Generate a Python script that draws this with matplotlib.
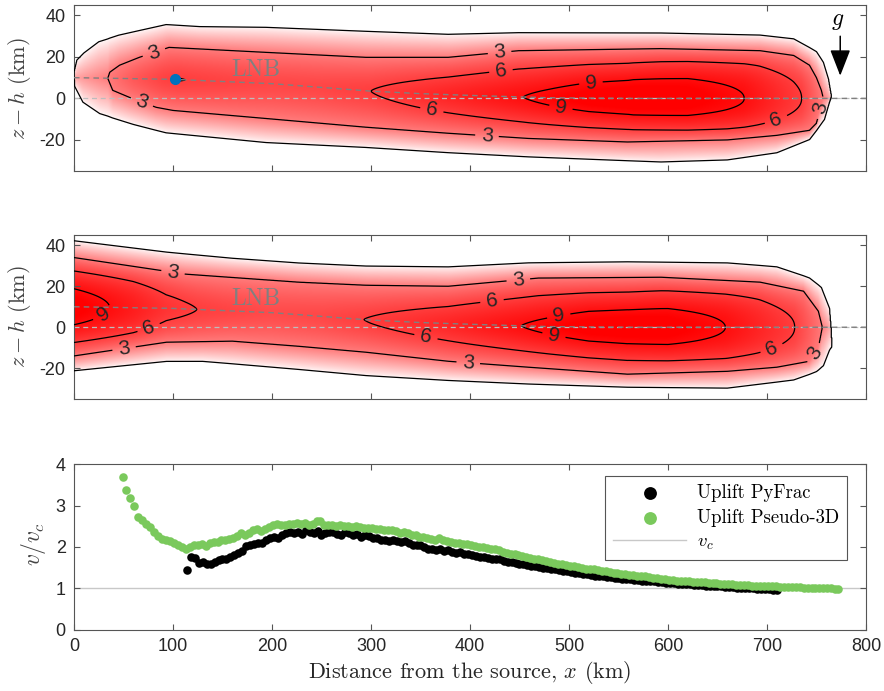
import numpy as np
import matplotlib
matplotlib.use("Agg")
import matplotlib.pyplot as plt
from matplotlib.colors import LinearSegmentedColormap, PowerNorm

plt.rcParams["font.family"] = ["Liberation Sans", "DejaVu Sans"]
plt.rcParams["mathtext.fontset"] = "cm"
plt.rcParams["axes.unicode_minus"] = False

# level of neutral buoyancy (centre of the plume)
lnb_x = [0, 100, 200, 250, 300, 350, 400, 480, 560, 800]
lnb_z = [10, 9.2, 7.1, 5.3, 3.5, 2.3, 1.45, 0.3, 0, 0]

# --- top panel (PyFrac footprint) ---
a_up_x = [0, 3, 10, 25, 45, 93, 127, 194, 295, 378, 449, 593, 693, 727, 750, 757, 762, 765]
a_up = [12.5, 19, 22.5, 28, 31, 36, 35, 34.7, 32.8, 31.3, 32, 31.8, 30.8, 29, 23, 18, 10, 1]
a_lo_x = [0, 1, 9, 26, 60, 93, 194, 295, 378, 459, 593, 660, 710, 743, 758, 763, 765]
a_lo = [12.5, 5.3, -2.4, -8, -13, -17, -21.7, -24, -26.5, -28.5, -31, -30, -26.5, -20, -10.6, -2, 1]
a_t3_x = [34, 36, 46, 66, 96, 194, 295, 378, 449, 593, 693, 727, 743, 750, 755, 757]
a_t3 = [9.7, 12.6, 16, 19.8, 24.6, 22.2, 19.8, 19.8, 23, 24, 23, 20.7, 16, 10, 3.9, 0]
a_b3_x = [34, 39, 56, 83, 100, 194, 295, 378, 459, 559, 660, 710, 743, 750, 757]
a_b3 = [9.7, 3.9, 0.5, -4.3, -5.8, -9.7, -13.9, -16.8, -19.3, -21, -20, -17.8, -15.4, -12, 0]
a_pk_x = [0, 20, 34, 60, 90, 105, 120, 200, 250, 300, 378, 454, 520, 565, 620, 677, 735, 757, 766]
a_pk = [1.5, 2.4, 3, 4.6, 5.8, 6.05, 5.95, 5.5, 5.6, 6, 7.6, 9, 10.5, 11, 10.5, 9, 6, 3, 1]
a_k_x = [0, 560, 690, 800]
a_k = [1.4, 1.4, 2.2, 2.2]

# --- middle panel (pseudo-3D footprint) ---
b_up_x = [0, 93.5, 160, 227, 295, 378, 459, 559, 660, 710, 743, 755, 763, 764.5, 765.5]
b_up = [42.5, 37, 34, 31.7, 30.2, 29.8, 31.7, 32.2, 31.7, 29.8, 24.4, 20, 10, 0, -10]
b_lo_x = [0, 93.5, 130, 227, 295, 378, 459, 559, 660, 727, 750, 757, 763, 765.5]
b_lo = [-21.5, -17, -17, -21, -24, -26.3, -28, -29.5, -30, -26, -22, -19.5, -12, -10]
b_t3_x = [0, 113, 227, 295, 378, 469, 593, 693, 737, 752, 756]
b_t3 = [34, 25.9, 22, 20.5, 20, 24, 24.4, 22, 17.6, 7.8, 0]
b_b3_x = [0, 93.5, 160, 227, 295, 378, 459, 559, 660, 710, 743, 752, 756]
b_b3 = [-14, -7.3, -6.8, -9.3, -12.2, -16.6, -19.5, -22.9, -21.5, -19.5, -16.6, -10, 0]
b_pk_x = [0, 36, 60, 93, 124, 200, 250, 293, 378, 452, 520, 559, 600, 658, 728, 756, 766]
b_pk = [10.5, 9, 8, 6.6, 6, 5.3, 5.5, 6, 7.5, 9, 10.5, 10.8, 10.5, 9, 6, 3, 1]
b_k_x = [0, 60, 150, 560, 690, 800]
b_k = [1.6, 2.0, 1.4, 1.4, 2.2, 2.2]

# --- bottom panel: uplift velocity ---
pyfrac_x = [
    114, 118, 122, 126, 130, 134, 138, 142, 146, 150,
    154, 158, 162, 166, 170, 174, 178, 182, 186, 190,
    194, 198, 202, 206, 210, 214, 218, 222, 226, 230,
    234, 238, 242, 246, 250, 254, 258, 262, 266, 270,
    274, 278, 282, 286, 290, 294, 298, 302, 306, 310,
    314, 318, 322, 326, 330, 334, 338, 342, 346, 350,
    354, 358, 362, 366, 370, 374, 378, 382, 386, 390,
    394, 398, 402, 406, 410, 414, 418, 422, 426, 430,
    434, 438, 442, 446, 450, 454, 458, 462, 466, 470,
    474, 478, 482, 486, 490, 494, 498, 502, 506, 510,
    514, 518, 522, 526, 530, 534, 538, 542, 546, 550,
    554, 558, 562, 566, 570, 574, 578, 582, 586, 590,
    594, 598, 602, 606, 610, 614, 618, 622, 626, 630,
    634, 638, 642, 646, 650, 654, 658, 662, 666, 670,
    674, 678, 682, 686, 690, 694, 698, 702, 706, 710,
]
pyfrac_v = [
    1.44, 1.77, 1.74, 1.62, 1.65, 1.60, 1.58, 1.64, 1.68, 1.70,
    1.72, 1.77, 1.80, 1.85, 1.90, 2.02, 2.06, 2.08, 2.10, 2.09,
    2.16, 2.22, 2.25, 2.22, 2.28, 2.33, 2.36, 2.33, 2.37, 2.32,
    2.41, 2.36, 2.34, 2.38, 2.30, 2.33, 2.37, 2.35, 2.31, 2.30,
    2.36, 2.33, 2.28, 2.31, 2.25, 2.28, 2.26, 2.21, 2.22, 2.17,
    2.18, 2.15, 2.17, 2.14, 2.12, 2.15, 2.10, 2.06, 2.05, 2.04,
    2.00, 1.96, 1.95, 1.93, 1.95, 1.91, 1.92, 1.88, 1.86, 1.87,
    1.84, 1.82, 1.80, 1.79, 1.77, 1.77, 1.73, 1.72, 1.70, 1.71,
    1.67, 1.65, 1.63, 1.62, 1.60, 1.59, 1.57, 1.55, 1.54, 1.52,
    1.50, 1.49, 1.47, 1.46, 1.44, 1.43, 1.41, 1.40, 1.38, 1.37,
    1.35, 1.34, 1.33, 1.31, 1.30, 1.29, 1.28, 1.27, 1.26, 1.25,
    1.24, 1.23, 1.22, 1.21, 1.20, 1.19, 1.18, 1.17, 1.17, 1.16,
    1.15, 1.14, 1.14, 1.13, 1.12, 1.11, 1.11, 1.10, 1.09, 1.08,
    1.08, 1.07, 1.07, 1.06, 1.05, 1.05, 1.04, 1.03, 1.03, 1.02,
    1.01, 1.01, 1.00, 1.00, 0.99, 0.99, 0.98, 0.98, 0.97, 0.97,
]
p3d_x = [
    50, 53, 57, 61, 65, 69, 73, 77, 81, 85,
    89, 93, 97, 101, 105, 109, 113, 117, 121, 125,
    129, 133, 137, 141, 145, 149, 153, 157, 161, 165,
    169, 173, 177, 181, 185, 189, 193, 197, 201, 205,
    209, 213, 217, 221, 225, 229, 233, 237, 241, 245,
    249, 253, 257, 261, 265, 269, 273, 277, 281, 285,
    289, 293, 297, 301, 305, 309, 313, 317, 321, 325,
    329, 333, 337, 341, 345, 349, 353, 357, 361, 365,
    369, 373, 377, 381, 385, 389, 393, 397, 401, 405,
    409, 413, 417, 421, 425, 429, 433, 437, 441, 445,
    449, 453, 457, 461, 465, 469, 473, 477, 481, 485,
    489, 493, 497, 501, 505, 509, 513, 517, 521, 525,
    529, 533, 537, 541, 545, 549, 553, 557, 561, 565,
    569, 573, 577, 581, 585, 589, 593, 597, 601, 605,
    609, 613, 617, 621, 625, 629, 633, 637, 641, 645,
    649, 653, 657, 661, 665, 669, 673, 677, 681, 685,
    689, 693, 697, 701, 705, 709, 713, 717, 721, 725,
    729, 733, 737, 741, 745, 749, 753, 757, 761, 765,
    769, 772,
]
p3d_v = [
    3.68, 3.37, 3.19, 3.00, 2.72, 2.64, 2.55, 2.47, 2.36, 2.27,
    2.20, 2.16, 2.14, 2.10, 2.04, 2.00, 1.95, 2.00, 2.06, 2.04,
    2.08, 2.03, 2.10, 2.12, 2.11, 2.17, 2.16, 2.20, 2.21, 2.26,
    2.34, 2.28, 2.33, 2.42, 2.44, 2.38, 2.43, 2.48, 2.53, 2.56,
    2.52, 2.54, 2.55, 2.55, 2.57, 2.56, 2.58, 2.53, 2.55, 2.62,
    2.63, 2.52, 2.52, 2.53, 2.51, 2.52, 2.50, 2.51, 2.49, 2.50,
    2.48, 2.46, 2.46, 2.45, 2.44, 2.44, 2.42, 2.41, 2.40, 2.38,
    2.33, 2.37, 2.34, 2.30, 2.28, 2.25, 2.24, 2.21, 2.20, 2.16,
    2.22, 2.17, 2.14, 2.13, 2.10, 2.09, 2.08, 2.07, 2.05, 2.03,
    2.01, 1.99, 1.97, 1.96, 1.94, 1.92, 1.89, 1.86, 1.84, 1.82,
    1.81, 1.79, 1.76, 1.74, 1.71, 1.70, 1.68, 1.66, 1.65, 1.62,
    1.60, 1.59, 1.57, 1.55, 1.54, 1.52, 1.50, 1.48, 1.47, 1.46,
    1.44, 1.43, 1.42, 1.40, 1.38, 1.37, 1.36, 1.35, 1.33, 1.32,
    1.31, 1.30, 1.29, 1.27, 1.26, 1.25, 1.23, 1.22, 1.21, 1.20,
    1.19, 1.18, 1.18, 1.17, 1.16, 1.16, 1.15, 1.15, 1.14, 1.14,
    1.13, 1.12, 1.11, 1.10, 1.10, 1.09, 1.09, 1.08, 1.08, 1.07,
    1.07, 1.06, 1.06, 1.05, 1.05, 1.05, 1.04, 1.04, 1.04, 1.03,
    1.03, 1.03, 1.02, 1.02, 1.02, 1.01, 1.01, 1.01, 1.00, 1.00,
    0.99, 0.99,
]

SERIF = "cmr10"
EDGE = "#555555"
TXT = "#262626"


def plume(xg, zg, up_x, up, lo_x, lo, t3_x, t3, b3_x, b3, pk_x, pk, k_x, k):
    zt = np.interp(xg, up_x, up)
    zb = np.interp(xg, lo_x, lo)
    c = np.clip(np.interp(xg, lnb_x, lnb_z), np.minimum(zb, zt), zt)
    P = np.interp(xg, pk_x, pk)
    kk = np.interp(xg, k_x, k)
    has3 = P > 3
    t3v = np.where(has3, np.maximum(np.interp(xg, t3_x, t3), c + 0.05), c)
    b3v = np.where(has3, np.minimum(np.interp(xg, b3_x, b3), c - 0.05), c)
    Z = zg[:, None]
    zt, zb, c, P, kk, t3v, b3v, has3 = (
        a[None, :] for a in (zt, zb, c, P, kk, t3v, b3v, has3)
    )
    with np.errstate(divide="ignore", invalid="ignore"):
        r = np.where(Z >= c, (Z - c) / (t3v - c), (c - Z) / (c - b3v))
        inner = 3 + (P - 3) * (1 - np.clip(r, 0, 1) ** kk)
        s = np.where(Z > t3v, (zt - Z) / (zt - t3v), (Z - zb) / (b3v - zb))
        outer = np.minimum(P, 3) * np.clip(s, 0, 1) ** 1.5
    f = np.where(has3 & (Z <= t3v) & (Z >= b3v), inner, outer)
    f = np.where((Z > zb) & (Z < zt), f, 0)
    return np.nan_to_num(f)


def style_axes(ax):
    for sp in ax.spines.values():
        sp.set_color(EDGE)
        sp.set_linewidth(0.8)
    ax.tick_params(direction="in", top=True, right=True, length=4, width=0.8,
                   color=EDGE, labelcolor=TXT, labelsize=13, pad=6)


xg = np.linspace(0, 800, 1601)
zg = np.linspace(-35, 45, 641)
cmap = LinearSegmentedColormap.from_list("wr", ["#ffffff", "#ff0000"])
norm = PowerNorm(0.55, vmin=0, vmax=10)

fig = plt.figure(figsize=(8.84, 6.91), dpi=100)
ax1 = fig.add_axes([0.0837, 0.7525, 0.8959, 0.2402])
ax2 = fig.add_axes([0.0837, 0.4226, 0.8959, 0.2373])
ax3 = fig.add_axes([0.0837, 0.0883, 0.8959, 0.2402])

panels = [
    (ax1, (a_up_x, a_up, a_lo_x, a_lo, a_t3_x, a_t3, a_b3_x, a_b3, a_pk_x, a_pk, a_k_x, a_k),
     [(81, 21.7), (68, -2.5), (430, 21.6), (417, -19.5), (752, -4), (361, -6.7),
      (431, 14.4), (710, -11.5), (522, 8.7), (491, -6.7)]),
    (ax2, (b_up_x, b_up, b_lo_x, b_lo, b_t3_x, b_t3, b_b3_x, b_b3, b_pk_x, b_pk, b_k_x, b_k),
     [(100, 26.8), (30, 6.3), (76, -1), (51, -11.7), (355, -6), (449, 22.4),
      (422, 13.7), (489, 7.3), (484, -5.9), (398, -19), (705, -10.7), (745, -11.7)]),
]

for ax, args, label_pos in panels:
    f = plume(xg, zg, *args)
    ax.imshow(f, extent=(0, 800, -35, 45), origin="lower", aspect="auto",
              cmap=cmap, norm=norm, interpolation="bilinear", zorder=1)
    ax.contour(xg, zg, f, levels=[0.02], colors="k", linewidths=0.9, zorder=3)
    cs = ax.contour(xg, zg, f, levels=[3, 6, 9], colors="k", linewidths=0.9, zorder=3)
    ax.clabel(cs, fmt="%d", fontsize=15, inline=True, inline_spacing=6,
              colors=TXT, manual=label_pos)
    ax.axhline(0, color="#bdbdbd", lw=0.9, ls=(0, (4, 3)), zorder=2)
    ax.plot(lnb_x, lnb_z, color="#808080", lw=1.0, ls=(0, (4, 3)), zorder=4)
    ax.text(184, 13.6, "LNB", color="#808080", fontsize=17, family=SERIF,
            ha="center", va="center", zorder=5)
    ax.set_xlim(0, 800)
    ax.set_ylim(-35, 45)
    ax.set_yticks([-20, 0, 20, 40])
    ax.set_xticks(range(0, 801, 100))
    ax.set_xticklabels([])
    ax.set_ylabel("$z - h$ (km)", family=SERIF, fontsize=16, color="#444444")
    ax.yaxis.set_label_coords(-0.052, 0.5)
    style_axes(ax)

# injection point and gravity arrow
ax1.plot([102], [9.3], "o", color="#0072BD", markersize=7, zorder=6)
ax1.annotate("", xy=(774, 9.6), xytext=(774, 31.3),
             arrowprops=dict(arrowstyle="-|>,head_length=0.9,head_width=0.35",
                             color="k", lw=1.1, mutation_scale=18), zorder=6)
ax1.text(771, 37.5, "$g$", fontsize=17, ha="center", va="center", color="k")

# bottom panel
ax3.axhline(1, color="#c8c8c8", lw=1.0, label="$v_c$", zorder=1)
h1 = ax3.scatter(pyfrac_x, pyfrac_v, s=38, color="k", linewidths=0, zorder=2,
                 label="Uplift PyFrac")
h2 = ax3.scatter(p3d_x, p3d_v, s=38, color="#7ac95c", linewidths=0, zorder=3,
                 label="Uplift Pseudo-3D")
line = ax3.get_lines()[0]
leg = ax3.legend([h1, h2, line], ["Uplift PyFrac", "Uplift Pseudo-3D", "$v_c$"],
                 loc="upper right", bbox_to_anchor=(0.976, 0.925), borderaxespad=0,
                 fancybox=False, edgecolor=EDGE, framealpha=1, markerscale=1.5,
                 scatterpoints=1, handlelength=3.9, handletextpad=0.6,
                 labelspacing=0.35, borderpad=0.4, prop={"family": SERIF, "size": 13.5})
leg.get_frame().set_linewidth(0.8)
ax3.set_xlim(0, 800)
ax3.set_ylim(0, 4)
ax3.set_xticks(range(0, 801, 100))
ax3.set_yticks([0, 1, 2, 3, 4])
ax3.set_ylabel("$v/v_c$", family=SERIF, fontsize=17, color="#444444")
ax3.yaxis.set_label_coords(-0.033, 0.52)
ax3.set_xlabel("Distance from the source, $x$ (km)", family=SERIF, fontsize=16,
               color=TXT)
ax3.xaxis.set_label_coords(0.5, -0.175)
style_axes(ax3)

fig.savefig("out.png", dpi=100)
